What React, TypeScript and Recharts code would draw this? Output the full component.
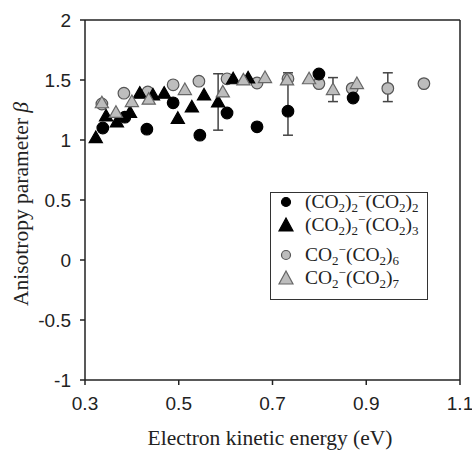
import React from 'react';
import {
  ScatterChart,
  Scatter,
  XAxis,
  YAxis,
  ErrorBar,
  ReferenceLine
} from 'recharts';

// (CO2)2-(CO2)2  black circles
const c2n2X = [0.338, 0.385, 0.432, 0.488, 0.545, 0.603, 0.667, 0.733, 0.799, 0.872];
const c2n2Y = [1.10, 1.19, 1.09, 1.31, 1.04, 1.225, 1.11, 1.24, 1.55, 1.35];

// (CO2)2-(CO2)3  black triangles
const c2n3X = [0.323, 0.345, 0.368, 0.396, 0.417, 0.445, 0.469, 0.498, 0.528, 0.554, 0.584, 0.616, 0.648];
const c2n3Y = [1.02, 1.20, 1.15, 1.23, 1.39, 1.375, 1.39, 1.18, 1.275, 1.375, 1.317, 1.51, 1.517];

// CO2-(CO2)6  gray circles
const c1n6X = [0.336, 0.383, 0.434, 0.488, 0.543, 0.603, 0.667, 0.733, 0.799, 0.870, 0.946, 1.023];
const c1n6Y = [1.30, 1.39, 1.40, 1.46, 1.49, 1.51, 1.475, 1.51, 1.47, 1.43, 1.43, 1.47];

// CO2-(CO2)7  gray triangles
const c1n7X = [0.336, 0.366, 0.400, 0.436, 0.513, 0.594, 0.638, 0.684, 0.731, 0.778, 0.829, 0.880];
const c1n7Y = [1.31, 1.23, 1.32, 1.34, 1.42, 1.40, 1.50, 1.52, 1.50, 1.51, 1.42, 1.47];

// error bars (x, y, +/-)
const errX = [0.584, 0.733, 0.829, 0.946];
const errY = [1.317, 1.30, 1.42, 1.44];
const errE = [0.235, 0.26, 0.10, 0.12];

const xTicks = [0.3, 0.5, 0.7, 0.9, 1.1];
const yTicks = [-1, -0.5, 0, 0.5, 1, 1.5, 2];

const zip = (xs: number[], ys: number[]) => xs.map((x, i) => ({ x, y: ys[i] }));

const GRAY = '#bdbdbd';
const EDGE = '#555';

const Circle = (fill: string, stroke: string) => (props: any) => {
  const { cx, cy } = props;
  return <circle cx={cx} cy={cy} r={5.8} fill={fill} stroke={stroke} strokeWidth={1.2} />;
};

const Triangle = (fill: string, stroke: string) => (props: any) => {
  const { cx, cy } = props;
  const s = 6.6;
  const pts = `${cx},${cy - s} ${cx - s},${cy + s * 0.75} ${cx + s},${cy + s * 0.75}`;
  return <polygon points={pts} fill={fill} stroke={stroke} strokeWidth={1.2} />;
};

const Nothing = () => <g />;

const Sub = ({ children }: { children: React.ReactNode }) => (
  <span style={{ fontSize: 13, verticalAlign: -4 }}>{children}</span>
);
const Sup = ({ children }: { children: React.ReactNode }) => (
  <span style={{ fontSize: 13, verticalAlign: 7 }}>{children}</span>
);

const legendRows = [
  { shape: 'circle', fill: '#000', stroke: '#000', top: 8, label: <>(CO<Sub>2</Sub>)<Sub>2</Sub><Sup>−</Sup>(CO<Sub>2</Sub>)<Sub>2</Sub></> },
  { shape: 'tri', fill: '#000', stroke: '#000', top: 31, label: <>(CO<Sub>2</Sub>)<Sub>2</Sub><Sup>−</Sup>(CO<Sub>2</Sub>)<Sub>3</Sub></> },
  { shape: 'circle', fill: GRAY, stroke: EDGE, top: 61, label: <>CO<Sub>2</Sub><Sup>−</Sup>(CO<Sub>2</Sub>)<Sub>6</Sub></> },
  { shape: 'tri', fill: GRAY, stroke: '#666', top: 84, label: <>CO<Sub>2</Sub><Sup>−</Sup>(CO<Sub>2</Sub>)<Sub>7</Sub></> }
];

const serif = '"Liberation Serif", "Times New Roman", serif';
const sans = '"Liberation Sans", Arial, sans-serif';

export default function App() {
  return (
    <div style={{ position: 'absolute', left: 0, top: 0, width: 472, height: 450, background: '#fff' }}>
      <ScatterChart width={472} height={450} margin={{ top: 20, right: 12, bottom: 0, left: 0 }}>
        <XAxis
          type="number"
          dataKey="x"
          domain={[0.3, 1.1]}
          ticks={xTicks}
          tickFormatter={(v: number) => v.toFixed(1)}
          height={70}
          tickSize={5}
          tickMargin={12}
          stroke="#222"
          strokeWidth={1.5}
          tick={{ fill: '#222', fontSize: 19, fontFamily: sans }}
          allowDataOverflow
        />
        <YAxis
          type="number"
          dataKey="y"
          domain={[-1, 2]}
          ticks={yTicks}
          width={85}
          tickSize={5}
          tickMargin={9}
          stroke="#222"
          strokeWidth={1.5}
          tick={{ fill: '#222', fontSize: 19, fontFamily: sans }}
          allowDataOverflow
        />
        <ReferenceLine y={2} stroke="#222" strokeWidth={1.5} />
        <ReferenceLine x={1.1} stroke="#222" strokeWidth={1.5} />
        <Scatter
          data={errX.map((x, i) => ({ x, y: errY[i], e: errE[i] }))}
          shape={Nothing}
          isAnimationActive={false}
        >
          <ErrorBar dataKey="e" direction="y" width={5} stroke="#444" strokeWidth={1.5} />
        </Scatter>
        <Scatter data={zip(c1n6X, c1n6Y)} shape={Circle(GRAY, EDGE)} isAnimationActive={false} />
        <Scatter data={zip(c2n2X, c2n2Y)} shape={Circle('#000', '#000')} isAnimationActive={false} />
        <Scatter data={zip(c2n3X, c2n3Y)} shape={Triangle('#000', '#000')} isAnimationActive={false} />
        <Scatter data={zip(c1n7X, c1n7Y)} shape={Triangle(GRAY, '#666')} isAnimationActive={false} />
      </ScatterChart>

      {/* y axis title */}
      <div
        style={{
          position: 'absolute',
          left: 21,
          top: 204,
          transform: 'translate(-50%, -50%) rotate(-90deg)',
          whiteSpace: 'nowrap',
          fontFamily: serif,
          fontSize: 21.5,
          color: '#222'
        }}
      >
        Anisotropy parameter <i>β</i>
      </div>

      {/* x axis title */}
      <div
        style={{
          position: 'absolute',
          left: 270,
          top: 426,
          transform: 'translateX(-50%)',
          whiteSpace: 'nowrap',
          fontFamily: serif,
          fontSize: 21.5,
          color: '#222'
        }}
      >
        Electron kinetic energy (eV)
      </div>

      {/* legend */}
      <div
        style={{
          position: 'absolute',
          left: 270,
          top: 192,
          width: 158,
          height: 108,
          border: '1.5px solid #333',
          background: '#fff',
          boxSizing: 'border-box',
          fontFamily: serif,
          fontSize: 19.5,
          color: '#222'
        }}
      >
        {legendRows.map((r, i) => (
          <div key={i} style={{ position: 'absolute', left: 6, top: r.top - 11, height: 24, display: 'flex', alignItems: 'center', whiteSpace: 'nowrap' }}>
            <svg width={18} height={18} style={{ marginRight: 10 }}>
              {r.shape === 'circle' ? (
                <circle cx={9} cy={9} r={4.5} fill={r.fill} stroke={r.stroke} strokeWidth={1.2} />
              ) : (
                <polygon points="9,2 2,15 16,15" fill={r.fill} stroke={r.stroke} strokeWidth={1.2} />
              )}
            </svg>
            <span>{r.label}</span>
          </div>
        ))}
      </div>
    </div>
  );
}
